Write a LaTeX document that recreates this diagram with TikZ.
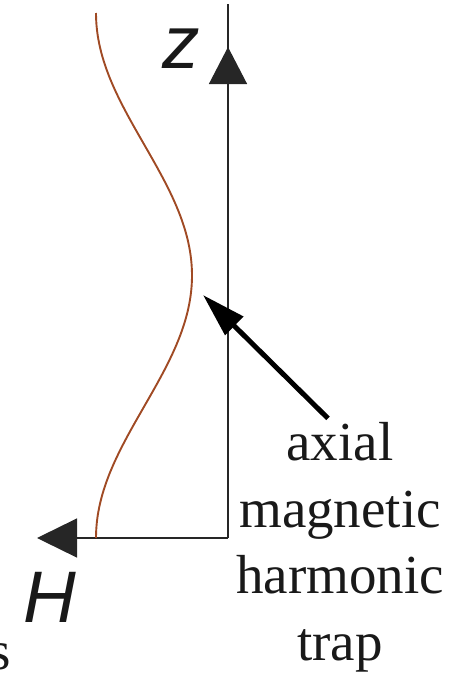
\documentclass[tikz,border=0pt]{standalone}
\usepackage{fontspec}
\setmainfont{Liberation Serif}
\newfontfamily\axisfont{Liberation Sans}
\usetikzlibrary{arrows.meta,positioning,calc}
\definecolor{curvebrown}{RGB}{160,74,36}
\tikzset{
  axisline/.style={line width=1.3pt, black!85},
  axishead/.style={axisline, -{Triangle[length=37pt,width=38pt]}},
  pointer/.style={line width=5pt, -{Triangle[length=44pt,width=25pt]}},
  axislabel/.style={font=\axisfont\itshape\fontsize{75}{75}\selectfont, inner sep=0pt, anchor=base, black!90},
  traptext/.style={font=\fontsize{55}{66.5}\selectfont, align=center, inner sep=0pt, black!90}
}
\begin{document}
\begin{tikzpicture}[x=1pt,y=-1pt]
  \useasboundingbox (0,0) rectangle (456,675);
  % axes
  \coordinate (origin) at (228,538);
  \coordinate (zend) at (228,4);
  \coordinate (ztip) at (228,47);
  \coordinate (Htip) at (37,538);
  \draw[axisline] (origin) -- (zend);
  \draw[axishead] (origin) -- (ztip);
  \draw[axishead, -{Triangle[length=40pt,width=39pt]}] (origin) -- (Htip);
  \node[axislabel] (zlabel) at (181,68) {z};
  \node[axislabel, font=\axisfont\itshape\fontsize{73}{73}\selectfont] (Hlabel) at (50,622) {H};
  % field profile
  \draw[curvebrown, line width=1.9pt, domain=0:360, samples=120]
      plot({96+48*(1-cos(\x))}, {13+1.45833*\x});
  % label and pointer
  \node[traptext, anchor=north] (trap) at (340,422.4) {axial\\magnetic\\harmonic\\trap};
  \coordinate (tip) at (203,295);
  \draw[pointer] ([shift={(-12,-4)}]trap.north) -- (tip);
  \node[traptext, anchor=base east] (cut) at (11,669) {s};
\end{tikzpicture}
\end{document}
